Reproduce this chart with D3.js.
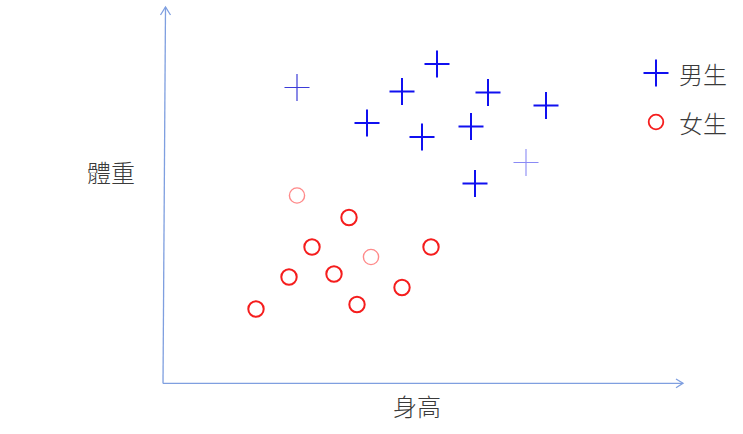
<!DOCTYPE html>
<html>
<head>
<meta charset="utf-8">
<script src="https://cdn.jsdelivr.net/npm/d3@7"></script>
<style>
  body { margin: 0; background: #fff; }
  text { font-family: "Noto Sans CJK TC", "Noto Sans CJK SC", sans-serif; fill: #3a3a3a; font-weight: 300; }
</style>
</head>
<body>
<svg id="chart" width="743" height="434"></svg>
<script>
// boys: height (cm), weight (kg)
var boyHeights = [153.5, 167.5, 164.0, 172.6, 178.4, 160.5, 170.9, 166.0, 176.4, 171.3];
var boyWeights = [89.1, 93.8, 88.3, 88.1, 85.5, 82.0, 81.3, 79.2, 74.1, 69.9];
// girls
var girlHeights = [153.5, 158.7, 155.0, 160.9, 166.9, 152.7, 157.2, 164.0, 149.4, 159.5];
var girlWeights = [67.5, 63.1, 57.2, 55.2, 57.2, 51.2, 51.8, 49.1, 44.8, 45.7];

var legendLabels = ['男生', '女生'];
var axisLabels = { x: '身高', y: '體重' };

var svg = d3.select('#chart');

var x = d3.scaleLinear().domain([140, 192]).range([162, 682]);
var y = d3.scaleLinear().domain([30, 105]).range([383, 8]);

// axes with open arrow heads
var axisColor = '#7f9fe0';
var axes = svg.append('g').attr('stroke', axisColor).attr('fill', 'none').attr('stroke-width', 1.3);
axes.append('line').attr('x1', 163).attr('y1', 383.5).attr('x2', 165.5).attr('y2', 7);
axes.append('path').attr('d', 'M160.5,15 L165.5,7 L170.5,15');
axes.append('line').attr('x1', 163).attr('y1', 383.3).attr('x2', 683).attr('y2', 383.3);
axes.append('path').attr('d', 'M676,379 L683,383.3 L676,387.7');

svg.append('text').attr('x', 111).attr('y', 171).attr('text-anchor', 'middle')
  .attr('dominant-baseline', 'central').style('font-size', '24px').text(axisLabels.y);
svg.append('text').attr('x', 417).attr('y', 405).attr('text-anchor', 'middle')
  .attr('dominant-baseline', 'central').style('font-size', '24px').text(axisLabels.x);

var plusPath = function(cx, cy) {
  return 'M' + (cx - 12.5) + ',' + cy + 'H' + (cx + 12.5) +
         'M' + cx + ',' + (cy - 13.5) + 'V' + (cy + 13.5);
};

// a couple of markers are drawn fainter in the original
var boyStyle = { 0: { color: '#3c3cd8', width: 1.2 }, 8: { color: '#8a8af5', width: 1.1 } };
var girlStyle = { 0: { color: '#ff8a8a', width: 1.4 }, 3: { color: '#ff8a8a', width: 1.4 } };

var boys = d3.range(boyHeights.length);
svg.append('g').selectAll('path')
  .data(boys)
  .enter().append('path')
  .attr('d', function(i) { return plusPath(x(boyHeights[i]), y(boyWeights[i])); })
  .attr('fill', 'none')
  .attr('stroke', function(i) { return boyStyle[i] ? boyStyle[i].color : '#1010f0'; })
  .attr('stroke-width', function(i) { return boyStyle[i] ? boyStyle[i].width : 2; });

var girls = d3.range(girlHeights.length);
svg.append('g').selectAll('circle')
  .data(girls)
  .enter().append('circle')
  .attr('cx', function(i) { return x(girlHeights[i]); })
  .attr('cy', function(i) { return y(girlWeights[i]); })
  .attr('r', function(i) { return girlStyle[i] ? 7.6 : 7.7; })
  .attr('fill', 'none')
  .attr('stroke', function(i) { return girlStyle[i] ? girlStyle[i].color : '#f51d1d'; })
  .attr('stroke-width', function(i) { return girlStyle[i] ? girlStyle[i].width : 2; });

// legend
var legend = svg.append('g');
legend.append('path').attr('d', plusPath(656, 73)).attr('fill', 'none')
  .attr('stroke', '#1010f0').attr('stroke-width', 2);
legend.append('circle').attr('cx', 656).attr('cy', 122).attr('r', 7.3)
  .attr('fill', 'none').attr('stroke', '#f51d1d').attr('stroke-width', 1.8);
legend.selectAll('text')
  .data(legendLabels)
  .enter().append('text')
  .attr('x', 679)
  .attr('y', function(d, i) { return 73 + i * 49; })
  .attr('dominant-baseline', 'central')
  .style('font-size', '24px')
  .text(function(d) { return d; });
</script>
</body>
</html>
